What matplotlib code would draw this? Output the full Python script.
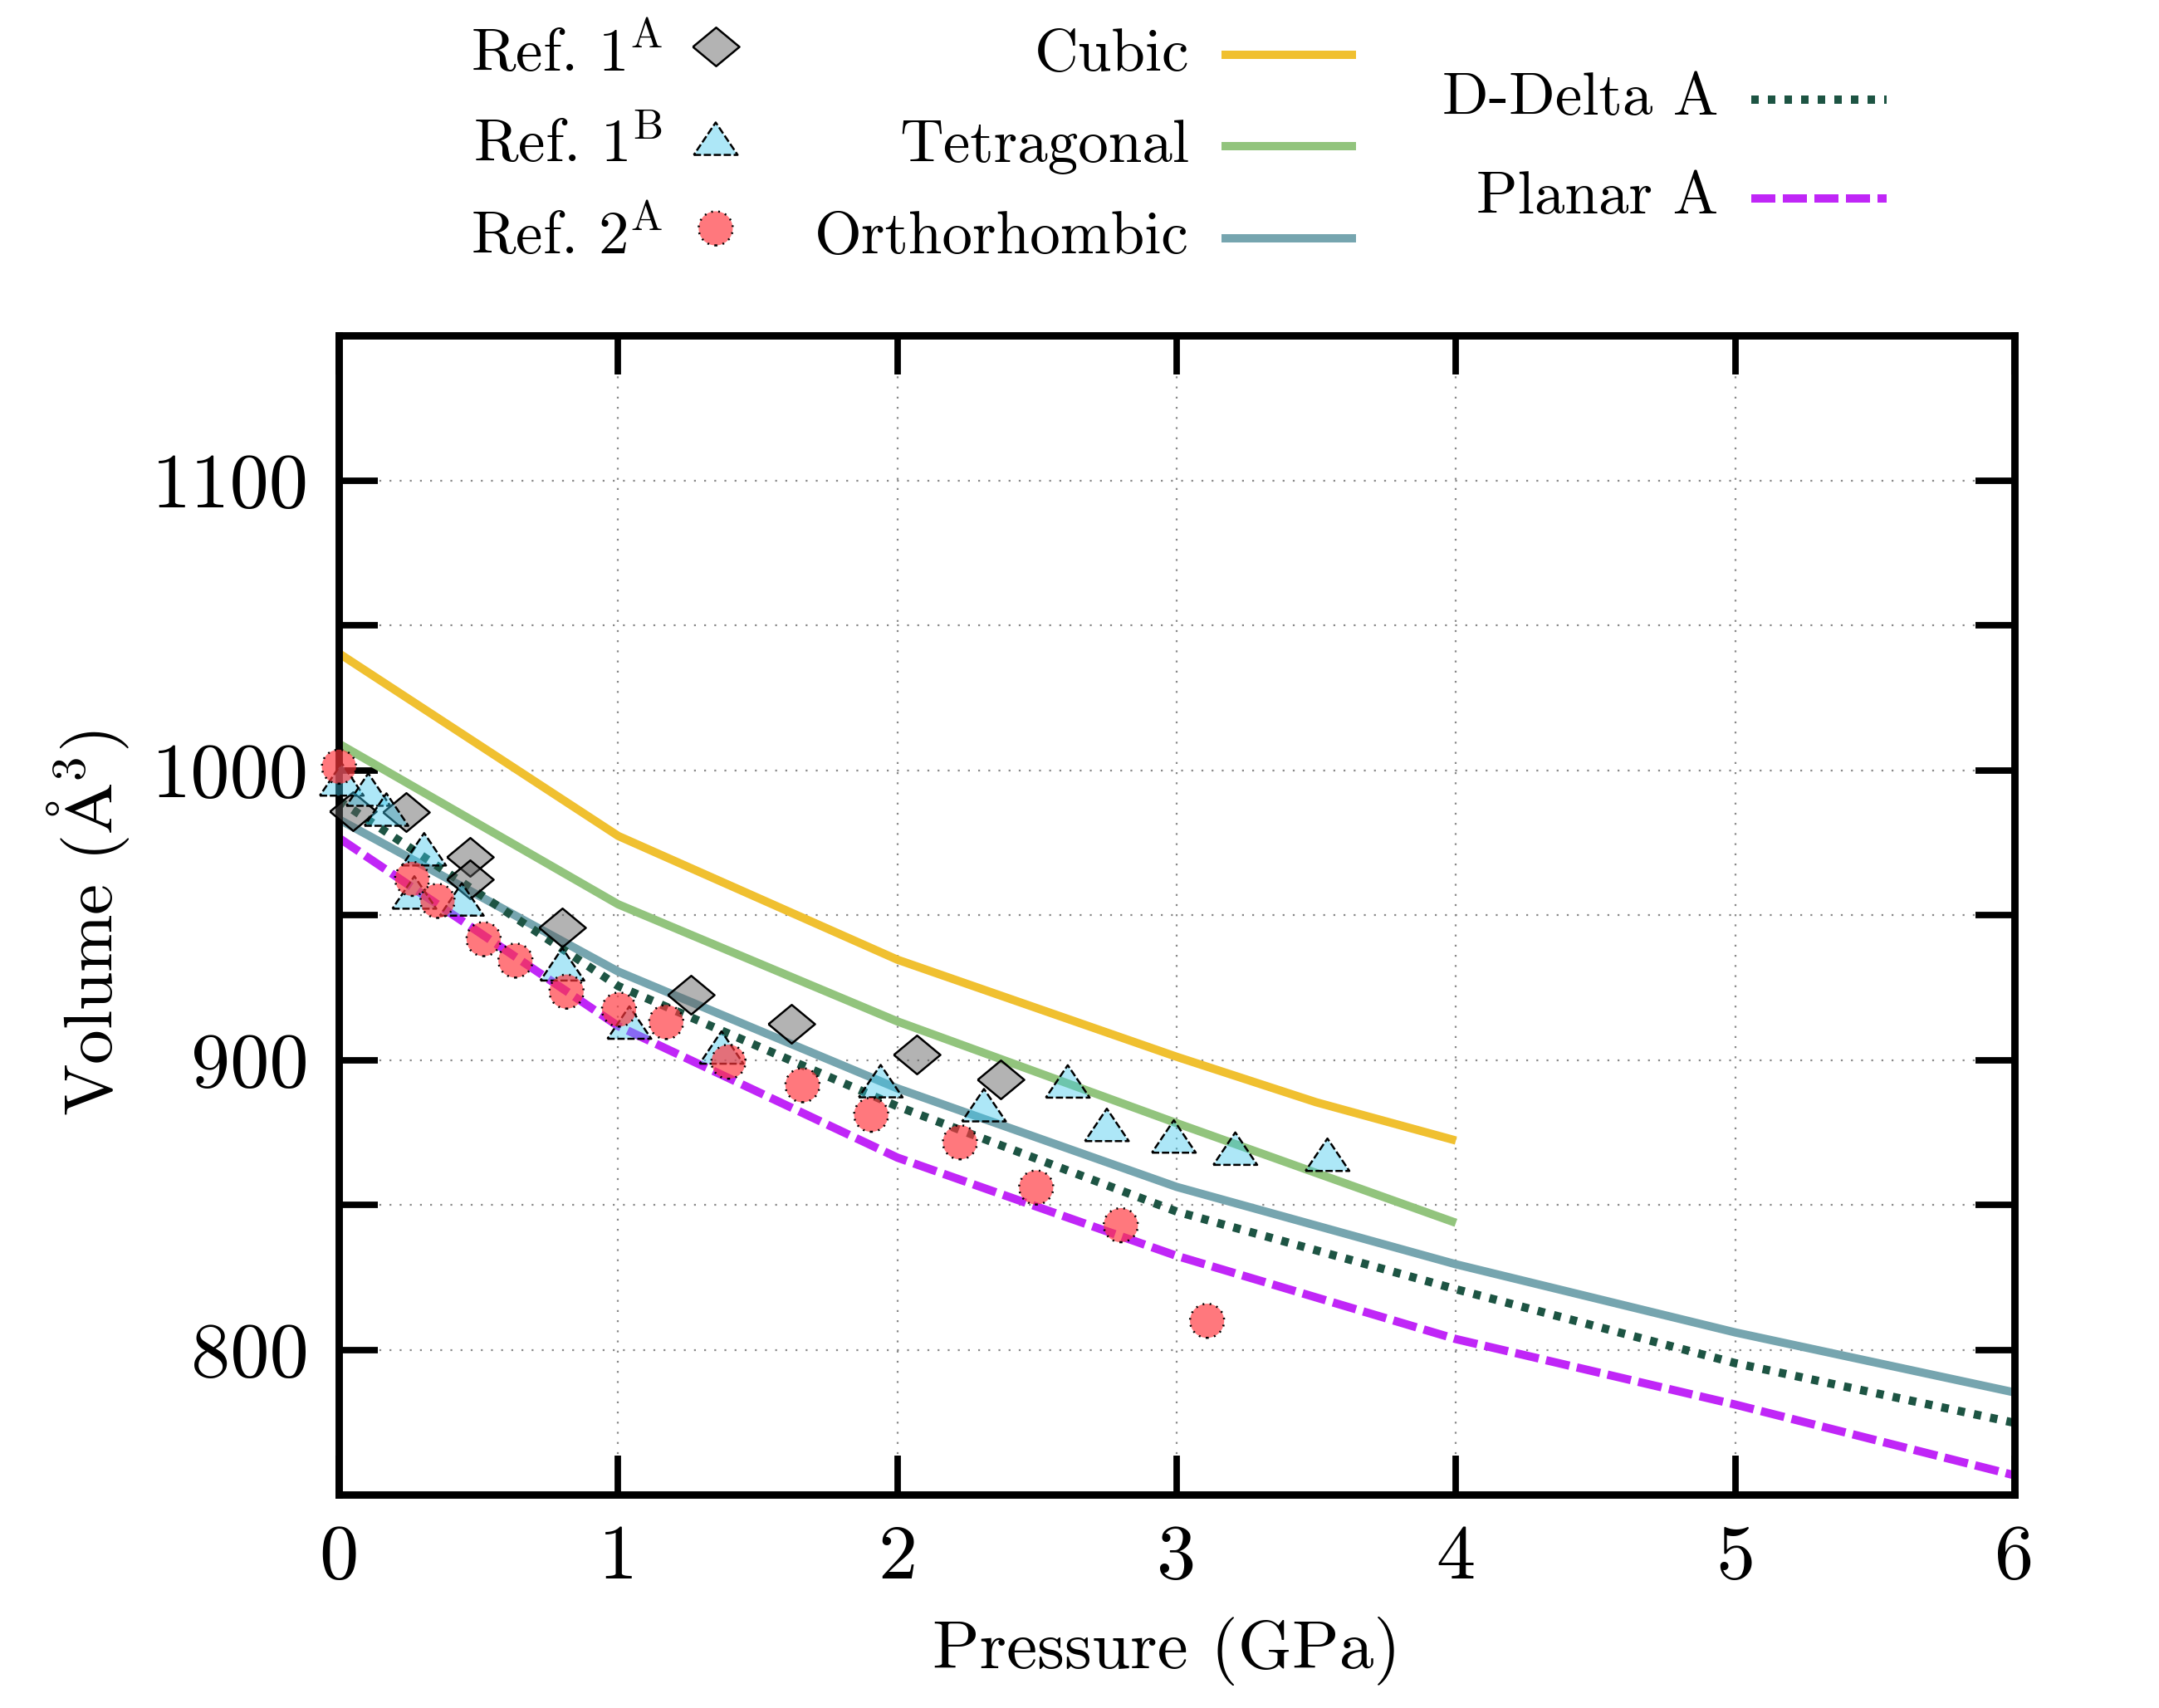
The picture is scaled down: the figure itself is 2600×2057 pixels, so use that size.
import matplotlib
matplotlib.use('Agg')
import matplotlib.pyplot as plt
from matplotlib.lines import Line2D
from matplotlib.ticker import FuncFormatter
import numpy as np

plt.rcParams['font.family'] = ['cmr10', 'DejaVu Serif']
plt.rcParams['mathtext.fontset'] = 'cm'
plt.rcParams['axes.formatter.use_mathtext'] = True
plt.rcParams['axes.unicode_minus'] = False

# --- model curves (pressure in GPa, volume in A^3) ---
cubic_p = [0, 1, 2, 3, 3.5, 4]
cubic_v = [1040.3, 977.3, 934.6, 901.1, 885.4, 872.2]

tetra_p = [0, 1, 2, 3, 4]
tetra_v = [1009.1, 953.7, 913.3, 878.2, 843.8]

ortho_p = [0, 1, 2, 3, 4, 5, 6]
ortho_v = [983.0, 930.5, 890.2, 856.2, 829.5, 806.0, 785.3]

ddelta_p = [0, 1, 2, 3, 4, 5, 6]
ddelta_v = [989.5, 925.5, 884.0, 847.7, 820.9, 795.4, 774.8]

planar_p = [0, 1, 2, 3, 4, 5, 6]
planar_v = [976.6, 911.7, 866.3, 832.4, 803.7, 781.1, 756.7]

# --- reference data ---
ref1a_p = [0.05, 0.24, 0.47, 0.47, 0.80, 1.26, 1.62, 2.07, 2.37]
ref1a_v = [985.9, 985.5, 970.2, 962.3, 945.6, 922.6, 912.6, 901.9, 893.3]

ref1b_p = [0.01, 0.105, 0.17, 0.27, 0.305, 0.44, 0.80, 1.04, 1.37,
           1.94, 2.31, 2.61, 2.75, 2.99, 3.21, 3.54]
ref1b_v = [996.8, 993.3, 986.4, 957.8, 972.7, 955.4, 933.0, 912.9, 904.3,
           892.7, 884.4, 892.6, 877.6, 873.6, 869.4, 867.3]

ref2a_p = [0.0, 0.262, 0.353, 0.518, 0.632, 0.815, 1.003, 1.172, 1.395,
           1.66, 1.906, 2.224, 2.497, 2.8, 3.109]
ref2a_v = [1001.2, 962.5, 954.9, 941.7, 934.3, 923.6, 917.4, 913.1, 899.4,
           891.3, 881.1, 871.6, 856.0, 843.0, 810.0]

line_labels = ['Cubic', 'Tetragonal', 'Orthorhombic', 'D-Delta A', 'Planar A']
ref_labels = [r'Ref. 1$^{\mathrm{A}}$', r'Ref. 1$^{\mathrm{B}}$', r'Ref. 2$^{\mathrm{A}}$']

# styles
c_cubic = '#f0c030'
c_tetra = '#92c47d'
c_ortho = '#76a5af'
c_ddelta = '#1d5443'
c_planar = '#c026f7'
lw = 3.6
ls_dot = (0, (0.9, 1.1))
ls_dash = (0, (2.9, 0.9))

diamond = [(-1, 0), (0, 0.83), (1, 0), (0, -0.83), (-1, 0)]
triangle = [(-1, -0.74), (1, -0.74), (0, 0.74), (-1, -0.74)]

mk_1a = dict(marker=diamond, s=20.2**2, facecolors=[(0.37, 0.37, 0.37, 0.47)],
             edgecolors='black', linewidths=0.9, linestyle='-')
mk_1b = dict(marker=triangle, s=19.0**2, facecolors=[(0.235, 0.784, 0.933, 0.42)],
             edgecolors='black', linewidths=0.9, linestyle=(0, (3.5, 1.3)))
mk_2a = dict(marker='o', s=14.8**2, facecolors=[(1.0, 0.21, 0.24, 0.67)],
             edgecolors='black', linewidths=0.9, linestyle=(0, (0.8, 2.6)))

fig = plt.figure(figsize=(13, 10.285), dpi=200)
ax = fig.add_axes([0.157, 0.1249, 0.776, 0.6787])

ax.plot(cubic_p, cubic_v, color=c_cubic, lw=lw, solid_capstyle='butt')
ax.plot(tetra_p, tetra_v, color=c_tetra, lw=lw, solid_capstyle='butt')
ax.plot(ortho_p, ortho_v, color=c_ortho, lw=lw, solid_capstyle='butt')
ax.plot(ddelta_p, ddelta_v, color=c_ddelta, lw=lw, linestyle=ls_dot)
ax.plot(planar_p, planar_v, color=c_planar, lw=lw, linestyle=ls_dash)

ax.scatter(ref1a_p, ref1a_v, zorder=4, clip_on=False, **mk_1a)
ax.scatter(ref1b_p, ref1b_v, zorder=5, clip_on=False, **mk_1b)
ax.scatter(ref2a_p, ref2a_v, zorder=6, clip_on=False, **mk_2a)

ax.set_xlim(0, 6)
ax.set_ylim(750, 1150)
ax.set_xticks(np.arange(0, 7, 1))
ax.set_yticks(np.arange(800, 1101, 50))
ax.yaxis.set_major_formatter(FuncFormatter(lambda v, pos: '%d' % v if v % 100 == 0 else ''))
ax.xaxis.set_major_formatter(FuncFormatter(lambda v, pos: '%d' % v))

ax.tick_params(axis='both', which='major', direction='in', length=17, width=2.8,
               top=True, right=True, labelsize=34, pad=13)
for sp in ax.spines.values():
    sp.set_linewidth(3.2)

ax.set_axisbelow(True)
ax.grid(True, color='#888888', linewidth=0.8, linestyle=(0, (1, 4.5)))

ax.set_xlabel('Pressure (GPa)', fontsize=30)
ax.xaxis.set_label_coords(0.494, -0.105)
ax.set_ylabel(r'Volume (${\rm \AA}^3$)', fontsize=30)
ax.yaxis.set_label_coords(-0.124, 0.493)

# --- legend, drawn in figure coordinates ---
leg_fs = 26.3
row_base = [0.9587, 0.9052, 0.8517]
row_mark = [0.9728, 0.9188, 0.8663]
row_line = [0.9679, 0.9144, 0.8605]

for lab, yb in zip(ref_labels, row_base):
    fig.text(0.3070, yb, lab, ha='right', va='baseline', fontsize=leg_fs)
for mk, ym in zip([mk_1a, mk_1b, mk_2a], row_mark):
    ax.scatter([0.3315], [ym], transform=fig.transFigure, clip_on=False, **mk)

for lab, col, yb, yl in zip(line_labels[:3], [c_cubic, c_tetra, c_ortho], row_base, row_line):
    fig.text(0.5508, yb, lab, ha='right', va='baseline', fontsize=leg_fs)
    fig.add_artist(Line2D([0.5658, 0.6281], [yl, yl], transform=fig.transFigure,
                          color=col, lw=lw, solid_capstyle='butt'))

col3_base = [0.9329, 0.8751]
col3_line = [0.9417, 0.8838]
for lab, col, ls, yb, yl in zip(line_labels[3:], [c_ddelta, c_planar], [ls_dot, ls_dash],
                                col3_base, col3_line):
    fig.text(0.7960, yb, lab, ha='right', va='baseline', fontsize=leg_fs)
    fig.add_artist(Line2D([0.8112, 0.8738], [yl, yl], transform=fig.transFigure,
                          color=col, lw=lw, linestyle=ls))

ax.set_xlim(0, 6)
ax.set_ylim(750, 1150)

fig.savefig('out.png', dpi=200)
